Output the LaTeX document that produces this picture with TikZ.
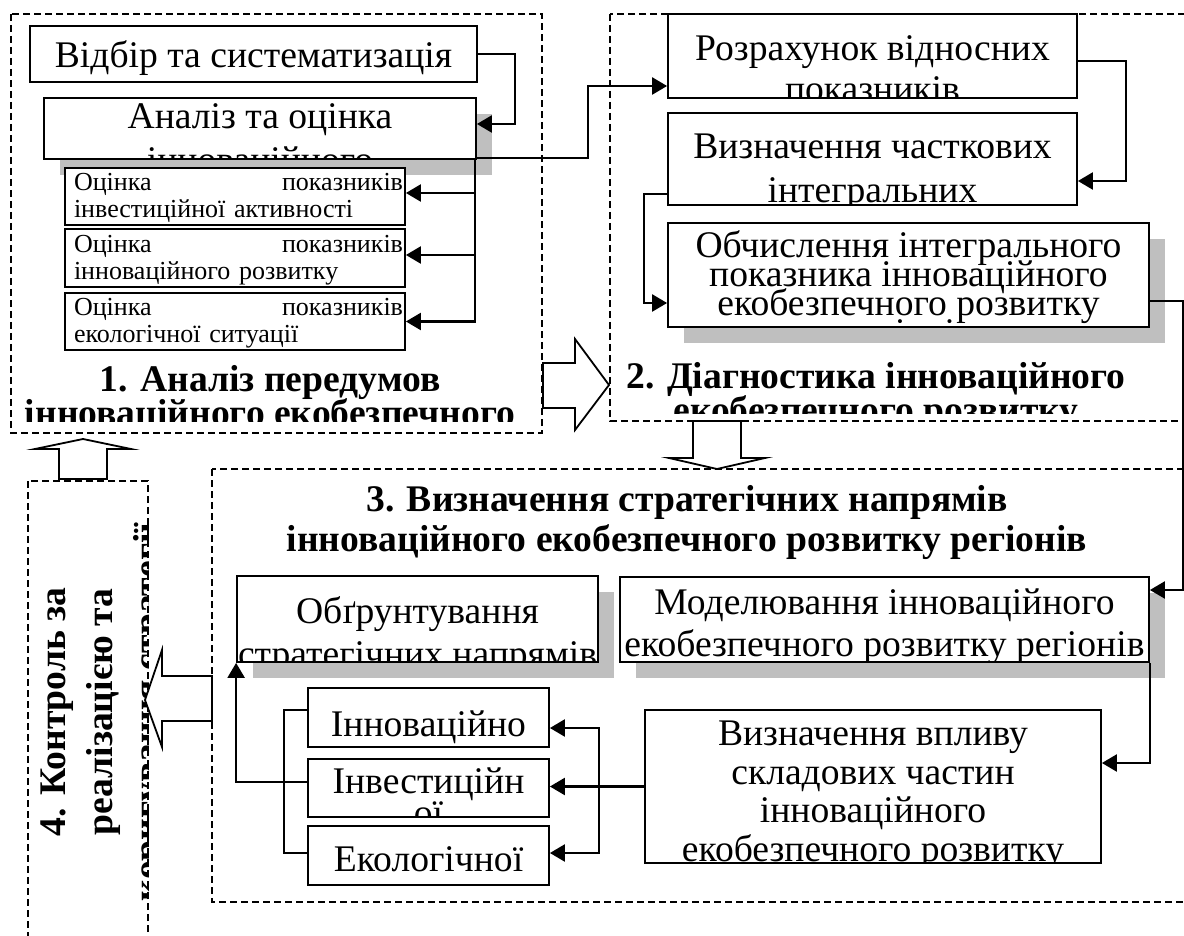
\documentclass[tikz,border=0pt]{standalone}
\usepackage{fontspec}
\setmainfont{Liberation Serif}
\usetikzlibrary{arrows.meta,shadows}
\lineskiplimit=-100pt

\begin{document}
\begin{tikzpicture}[
    x=0.5pt, y=-0.5pt,
    box/.style={draw, line width=0.9pt, fill=white, inner sep=0pt},
    shadowed/.style={drop shadow={shadow xshift=8pt, shadow yshift=-8pt, fill=black!25, opacity=1}},
    txt/.style n args={3}{path picture={\node[inner sep=0pt, minimum width=0pt, minimum height=0pt, anchor=north, align=center, #1] at ([shift={#2}]path picture bounding box.north) {#3};}},
    big/.style={font=\fontsize{18.8}{#1}\selectfont},
    small/.style={font=\fontsize{13}{13.5}\selectfont, align=left, text width=164.5pt},
    head/.style={font=\bfseries\fontsize{18.8}{#1}\selectfont},
    group/.style={draw, line width=0.75pt, dash pattern=on 3.5pt off 2pt},
    block/.style={draw, line width=0.9pt, fill=white},
    arrow/.style={-{Triangle[length=7.5pt, width=8.5pt]}, line width=1.2pt},
    link/.style={line width=1.1pt}
]
\path[use as bounding box, clip] (0,0) rectangle (1184,936);

% Stage frames
\draw[group] (11,14) rectangle (542,433);
\draw[group] (610,14) rectangle (1200,421);
\draw[group] (212,469) rectangle (1200,902);
\draw[group, txt={head=23.5, rotate=90, name=kontrol-t}{(-48,231)}{4. Контроль за\\реалізацією та\\коригування стратегії}] (28,481) rectangle (148,960);

% Stage titles
\path[txt={head=17, name=analiz-title}{(-6.5,10)}{1. Аналіз передумов\\інноваційного екобезпечного}] (11,355) rectangle (542,421);
\path[txt={head=17, name=diagn-title}{(0,7)}{2. Діагностика інноваційного\\екобезпечного розвитку}] (615,355) rectangle (1137,413);
\node[head=20, anchor=north, align=center, inner sep=0pt] (title3) at (687,485) {3. Визначення стратегічних напрямів\\інноваційного екобезпечного розвитку регіонів};

% Block arrows between stages
\draw[block] (543,363) -- (575,363) -- (575,339) -- (609,385) -- (575,430) -- (575,408) -- (543,408) -- cycle;
\draw[block] (693,421) -- (741,421) -- (741,458) -- (765,458) -- (717,469) -- (669,458) -- (693,458) -- cycle;
\draw[block] (59,479) -- (59,449) -- (35,449) -- (83,439) -- (131,449) -- (107,449) -- (107,479) -- cycle;
\draw[block] (212,676) -- (162,676) -- (162,650) -- (145,700) -- (162,747) -- (162,721) -- (212,721) -- cycle;

% Stage 1
\node[box, minimum width=223.5pt, minimum height=28pt, txt={big=21, name=vidbir-t}{(0,14)}{Відбір та систематизація}] (vidbir) at (253.5,54) {};
\node[box, shadowed, minimum width=216pt, minimum height=30.5pt, txt={big=22, name=analiz-t}{(0,5)}{Аналіз та оцінка\\інноваційного}] (analiz) at (260,128.5) {};
\node[box, minimum width=170pt, minimum height=28.5pt, txt={small, name=oc1-t}{(3.5,4)}{Оцінка\hfill показників\\інвестиційної активності}] (oc1) at (235,196.5) {};
\node[box, minimum width=170pt, minimum height=29pt, txt={small, name=oc2-t}{(3.5,5)}{Оцінка\hfill показників\\інноваційного розвитку}] (oc2) at (235,258) {};
\node[box, minimum width=170pt, minimum height=28.5pt, txt={small, name=oc3-t}{(3.5,4)}{Оцінка\hfill показників\\екологічної ситуації}] (oc3) at (235,321.5) {};

% Stage 2
\node[box, minimum width=204.5pt, minimum height=42pt, txt={big=20.5, name=rozrah-t}{(0,21)}{Розрахунок відносних\\показників}] (rozrah) at (872.5,56) {};
\node[box, minimum width=204.5pt, minimum height=46pt, txt={big=22, name=vyzn-t}{(0,20)}{Визначення часткових\\інтегральних}] (vyzn) at (872.5,159) {};
\node[box, shadowed, minimum width=240.5pt, minimum height=52pt, txt={big=14.5, name=obch-t}{(0,7)}{Обчислення інтегрального\\показника інноваційного\\екобезпечного розвитку\\регіонів}] (obch) at (908.5,275) {};

% Stage 3
\node[box, shadowed, minimum width=180.5pt, minimum height=43pt, txt={big=21.5, name=obg-t}{(0,20)}{Обґрунтування\\стратегічних напрямів}] (obg) at (417.5,619) {};
\node[box, shadowed, minimum width=264.5pt, minimum height=42.5pt, txt={big=21, name=model-t}{(0,11)}{Моделювання інноваційного\\екобезпечного розвитку регіонів}] (model) at (884.5,619.5) {};
\node[box, minimum width=228pt, minimum height=76.5pt, txt={big=19.25, name=vplyv-t}{(0,10)}{Визначення впливу\\складових частин\\інноваційного\\екобезпечного розвитку}] (vplyv) at (873,786.5) {};
\node[box, minimum width=120.5pt, minimum height=29.5pt, txt={big=21, name=inn-t}{(0,22)}{Інноваційно}] (inn) at (428.5,717.5) {};
\node[box, minimum width=120.5pt, minimum height=29pt, txt={big=16, name=inv-t}{(0,8)}{Інвестиційн\\ої}] (inv) at (428.5,788) {};
\node[box, minimum width=120.5pt, minimum height=29.5pt, txt={big=21, name=eko-t}{(0,20)}{Екологічної}] (eko) at (428.5,855.5) {};

% Stage 1 links
\draw[arrow] (vidbir.east) -- ++(37,0) |- ([shift={(0,-4.5)}]analiz.east);
\draw[arrow] ([shift={(-2,0)}]analiz.south east) |- ([shift={(0,-3.5)}]oc1.east);
\draw[arrow] ([shift={(-2,0)}]analiz.south east) |- ([shift={(0,-3)}]oc2.east);
\draw[arrow] ([shift={(-2,0)}]analiz.south east) |- (oc3.east);

% Stage 1 to stage 2
\draw[arrow] ([shift={(0,-2)}]analiz.south east) -- ++(111,0) |- ([shift={(0,30)}]rozrah.west);

% Stage 2 links
\draw[arrow] ([shift={(0,5)}]rozrah.east) -- ++(48,0) |- ([shift={(0,22)}]vyzn.east);
\draw[arrow] ([shift={(0,35)}]vyzn.west) -- ++(-23,0) |- ([shift={(0,28)}]obch.west);

% Stage 2 to stage 3
\draw[arrow, link] ([shift={(0,26)}]obch.east) -- ++(33,0) |- ([shift={(0,-29.5)}]model.east);

% Stage 3 links
\draw[arrow] (model.south east) |- ([shift={(0,-23.5)}]vplyv.east);
\draw[arrow] (vplyv.west) -- (vplyv.west -| inv.east);
\coordinate (fork) at ([shift={(49,-1.5)}]inv.east);
\draw[arrow] (fork) |- ([shift={(0,10.5)}]inn.east);
\draw[arrow] (fork) |- ([shift={(0,-2.5)}]eko.east);
\draw[arrow] ([shift={(0,-6)}]inv.west) -| (obg.south west);
\draw[link] ([shift={(0,-7.5)}]inn.west) -- ++(-23,0) |- ([shift={(0,-2.5)}]eko.west);

\end{tikzpicture}
\end{document}
